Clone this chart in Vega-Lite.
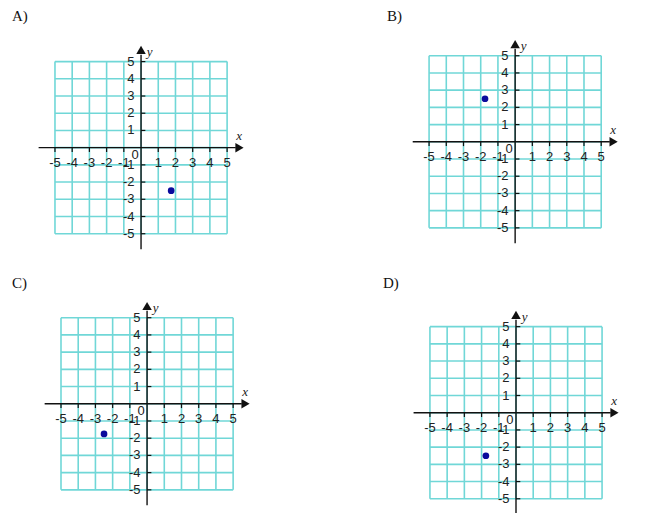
{
  "$schema": "https://vega.github.io/schema/vega-lite/v6.json",
  "padding": {"left": 12, "top": 9, "right": 0, "bottom": 0},
  "background": "white",
  "config": {
    "view": {"stroke": null},
    "axis": {"disable": true},
    "title": {"anchor": "start", "frame": "group", "dx": -28, "offset": 14, "font": "Liberation Serif", "fontSize": 15, "fontWeight": "normal", "color": "#111"}
  },
  "datasets": {
    "grid": [{"v": -5}, {"v": -4}, {"v": -3}, {"v": -2}, {"v": -1}, {"v": 0}, {"v": 1}, {"v": 2}, {"v": 3}, {"v": 4}, {"v": 5}],
    "axes": [
      {"x1": -5.95, "x2": 5.5, "y1": 0, "y2": 0},
      {"x1": 0, "x2": 0, "y1": -5.9, "y2": 5.4}
    ],
    "arrows": [
      {"x": 5.72, "y": 0, "dir": "right"},
      {"x": 0, "y": 5.68, "dir": "up"}
    ],
    "zero": [{"x": -0.35, "y": -0.4, "t": "0"}],
    "names": [
      {"x": 5.7, "y": 0.7, "t": "x"},
      {"x": 0.5, "y": 5.55, "t": "y"}
    ],
    "points": [
      {"panel": "A", "x": 1.75, "y": -2.5},
      {"panel": "B", "x": -1.75, "y": 2.5},
      {"panel": "C", "x": -2.5, "y": -1.75},
      {"panel": "D", "x": -1.75, "y": -2.5}
    ]
  },
  "columns": 2,
  "bounds": "flush",
  "spacing": {"column": 161, "row": 53},
  "concat": [
    {
      "title": {"text": "A)"},
      "width": 210, "height": 210,
      "layer": [
        {"data": {"name": "grid"}, "mark": {"type": "rule", "color": "#70d7d7", "strokeWidth": 1.6},
         "encoding": {"x": {"field": "v", "type": "quantitative", "scale": {"domain": [-5.87, 6.33], "nice": false, "zero": false}}, "y": {"datum": -5, "scale": {"domain": [-5.83, 6.37], "nice": false, "zero": false}}, "y2": {"datum": 5}}},
        {"data": {"name": "grid"}, "mark": {"type": "rule", "color": "#70d7d7", "strokeWidth": 1.6},
         "encoding": {"y": {"field": "v", "type": "quantitative"}, "x": {"datum": -5}, "x2": {"datum": 5}}},
        {"data": {"name": "axes"}, "mark": {"type": "rule", "color": "#111", "strokeWidth": 1.4},
         "encoding": {"x": {"field": "x1", "type": "quantitative"}, "x2": {"field": "x2"}, "y": {"field": "y1", "type": "quantitative"}, "y2": {"field": "y2"}}},
        {"data": {"name": "grid"}, "transform": [{"filter": "datum.v != 0"}], "mark": {"type": "rule", "color": "#111", "strokeWidth": 1.2},
         "encoding": {"x": {"field": "v", "type": "quantitative"}, "y": {"datum": 0}, "y2": {"datum": -0.25}}},
        {"data": {"name": "grid"}, "transform": [{"filter": "datum.v != 0"}], "mark": {"type": "rule", "color": "#111", "strokeWidth": 1.2},
         "encoding": {"y": {"field": "v", "type": "quantitative"}, "x": {"datum": 0}, "x2": {"datum": 0.25}}},
        {"data": {"name": "arrows"}, "mark": {"type": "point", "filled": true, "color": "#111", "size": 90, "opacity": 1},
         "encoding": {"x": {"field": "x", "type": "quantitative"}, "y": {"field": "y", "type": "quantitative"}, "shape": {"field": "dir", "type": "nominal", "scale": {"domain": ["right", "up"], "range": ["triangle-right", "triangle-up"]}, "legend": null}}},
        {"data": {"name": "grid"}, "transform": [{"filter": "datum.v != 0"}], "mark": {"type": "text", "font": "Liberation Sans", "fontSize": 13, "color": "#222", "align": "center", "baseline": "middle"},
         "encoding": {"x": {"field": "v", "type": "quantitative"}, "y": {"datum": -0.9}, "text": {"field": "v", "type": "nominal"}}},
        {"data": {"name": "grid"}, "transform": [{"filter": "datum.v != 0"}], "mark": {"type": "text", "font": "Liberation Sans", "fontSize": 13, "color": "#222", "align": "right", "baseline": "middle"},
         "encoding": {"y": {"field": "v", "type": "quantitative"}, "x": {"datum": -0.38}, "text": {"field": "v", "type": "nominal"}}},
        {"data": {"name": "zero"}, "mark": {"type": "text", "font": "Liberation Sans", "fontSize": 13, "color": "#222", "align": "center", "baseline": "middle"},
         "encoding": {"x": {"field": "x", "type": "quantitative"}, "y": {"field": "y", "type": "quantitative"}, "text": {"field": "t"}}},
        {"data": {"name": "names"}, "mark": {"type": "text", "font": "Liberation Serif", "fontStyle": "italic", "fontSize": 13, "color": "#222", "align": "center", "baseline": "middle"},
         "encoding": {"x": {"field": "x", "type": "quantitative"}, "y": {"field": "y", "type": "quantitative"}, "text": {"field": "t"}}},
        {"data": {"name": "points"}, "transform": [{"filter": "datum.panel == 'A'"}], "mark": {"type": "circle", "color": "#0a0a9c", "size": 45, "opacity": 1},
         "encoding": {"x": {"field": "x", "type": "quantitative"}, "y": {"field": "y", "type": "quantitative"}}}
      ]
    },
    {
      "title": {"text": "B)", "dx": -24},
      "width": 210, "height": 210,
      "layer": [
        {"data": {"name": "grid"}, "mark": {"type": "rule", "color": "#70d7d7", "strokeWidth": 1.6},
         "encoding": {"x": {"field": "v", "type": "quantitative", "scale": {"domain": [-6.05, 6.15], "nice": false, "zero": false}}, "y": {"datum": -5, "scale": {"domain": [-6.17, 6.03], "nice": false, "zero": false}}, "y2": {"datum": 5}}},
        {"data": {"name": "grid"}, "mark": {"type": "rule", "color": "#70d7d7", "strokeWidth": 1.6},
         "encoding": {"y": {"field": "v", "type": "quantitative"}, "x": {"datum": -5}, "x2": {"datum": 5}}},
        {"data": {"name": "axes"}, "mark": {"type": "rule", "color": "#111", "strokeWidth": 1.4},
         "encoding": {"x": {"field": "x1", "type": "quantitative"}, "x2": {"field": "x2"}, "y": {"field": "y1", "type": "quantitative"}, "y2": {"field": "y2"}}},
        {"data": {"name": "grid"}, "transform": [{"filter": "datum.v != 0"}], "mark": {"type": "rule", "color": "#111", "strokeWidth": 1.2},
         "encoding": {"x": {"field": "v", "type": "quantitative"}, "y": {"datum": 0}, "y2": {"datum": -0.25}}},
        {"data": {"name": "grid"}, "transform": [{"filter": "datum.v != 0"}], "mark": {"type": "rule", "color": "#111", "strokeWidth": 1.2},
         "encoding": {"y": {"field": "v", "type": "quantitative"}, "x": {"datum": 0}, "x2": {"datum": 0.25}}},
        {"data": {"name": "arrows"}, "mark": {"type": "point", "filled": true, "color": "#111", "size": 90, "opacity": 1},
         "encoding": {"x": {"field": "x", "type": "quantitative"}, "y": {"field": "y", "type": "quantitative"}, "shape": {"field": "dir", "type": "nominal", "scale": {"domain": ["right", "up"], "range": ["triangle-right", "triangle-up"]}, "legend": null}}},
        {"data": {"name": "grid"}, "transform": [{"filter": "datum.v != 0"}], "mark": {"type": "text", "font": "Liberation Sans", "fontSize": 13, "color": "#222", "align": "center", "baseline": "middle"},
         "encoding": {"x": {"field": "v", "type": "quantitative"}, "y": {"datum": -0.9}, "text": {"field": "v", "type": "nominal"}}},
        {"data": {"name": "grid"}, "transform": [{"filter": "datum.v != 0"}], "mark": {"type": "text", "font": "Liberation Sans", "fontSize": 13, "color": "#222", "align": "right", "baseline": "middle"},
         "encoding": {"y": {"field": "v", "type": "quantitative"}, "x": {"datum": -0.38}, "text": {"field": "v", "type": "nominal"}}},
        {"data": {"name": "zero"}, "mark": {"type": "text", "font": "Liberation Sans", "fontSize": 13, "color": "#222", "align": "center", "baseline": "middle"},
         "encoding": {"x": {"field": "x", "type": "quantitative"}, "y": {"field": "y", "type": "quantitative"}, "text": {"field": "t"}}},
        {"data": {"name": "names"}, "mark": {"type": "text", "font": "Liberation Serif", "fontStyle": "italic", "fontSize": 13, "color": "#222", "align": "center", "baseline": "middle"},
         "encoding": {"x": {"field": "x", "type": "quantitative"}, "y": {"field": "y", "type": "quantitative"}, "text": {"field": "t"}}},
        {"data": {"name": "points"}, "transform": [{"filter": "datum.panel == 'B'"}], "mark": {"type": "circle", "color": "#0a0a9c", "size": 45, "opacity": 1},
         "encoding": {"x": {"field": "x", "type": "quantitative"}, "y": {"field": "y", "type": "quantitative"}}}
      ]
    },
    {
      "title": {"text": "C)", "dy": 4},
      "width": 210, "height": 210,
      "layer": [
        {"data": {"name": "grid"}, "mark": {"type": "rule", "color": "#70d7d7", "strokeWidth": 1.6},
         "encoding": {"x": {"field": "v", "type": "quantitative", "scale": {"domain": [-6.22, 5.98], "nice": false, "zero": false}}, "y": {"datum": -5, "scale": {"domain": [-6.23, 5.97], "nice": false, "zero": false}}, "y2": {"datum": 5}}},
        {"data": {"name": "grid"}, "mark": {"type": "rule", "color": "#70d7d7", "strokeWidth": 1.6},
         "encoding": {"y": {"field": "v", "type": "quantitative"}, "x": {"datum": -5}, "x2": {"datum": 5}}},
        {"data": {"name": "axes"}, "mark": {"type": "rule", "color": "#111", "strokeWidth": 1.4},
         "encoding": {"x": {"field": "x1", "type": "quantitative"}, "x2": {"field": "x2"}, "y": {"field": "y1", "type": "quantitative"}, "y2": {"field": "y2"}}},
        {"data": {"name": "grid"}, "transform": [{"filter": "datum.v != 0"}], "mark": {"type": "rule", "color": "#111", "strokeWidth": 1.2},
         "encoding": {"x": {"field": "v", "type": "quantitative"}, "y": {"datum": 0}, "y2": {"datum": -0.25}}},
        {"data": {"name": "grid"}, "transform": [{"filter": "datum.v != 0"}], "mark": {"type": "rule", "color": "#111", "strokeWidth": 1.2},
         "encoding": {"y": {"field": "v", "type": "quantitative"}, "x": {"datum": 0}, "x2": {"datum": 0.25}}},
        {"data": {"name": "arrows"}, "mark": {"type": "point", "filled": true, "color": "#111", "size": 90, "opacity": 1},
         "encoding": {"x": {"field": "x", "type": "quantitative"}, "y": {"field": "y", "type": "quantitative"}, "shape": {"field": "dir", "type": "nominal", "scale": {"domain": ["right", "up"], "range": ["triangle-right", "triangle-up"]}, "legend": null}}},
        {"data": {"name": "grid"}, "transform": [{"filter": "datum.v != 0"}], "mark": {"type": "text", "font": "Liberation Sans", "fontSize": 13, "color": "#222", "align": "center", "baseline": "middle"},
         "encoding": {"x": {"field": "v", "type": "quantitative"}, "y": {"datum": -0.9}, "text": {"field": "v", "type": "nominal"}}},
        {"data": {"name": "grid"}, "transform": [{"filter": "datum.v != 0"}], "mark": {"type": "text", "font": "Liberation Sans", "fontSize": 13, "color": "#222", "align": "right", "baseline": "middle"},
         "encoding": {"y": {"field": "v", "type": "quantitative"}, "x": {"datum": -0.38}, "text": {"field": "v", "type": "nominal"}}},
        {"data": {"name": "zero"}, "mark": {"type": "text", "font": "Liberation Sans", "fontSize": 13, "color": "#222", "align": "center", "baseline": "middle"},
         "encoding": {"x": {"field": "x", "type": "quantitative"}, "y": {"field": "y", "type": "quantitative"}, "text": {"field": "t"}}},
        {"data": {"name": "names"}, "mark": {"type": "text", "font": "Liberation Serif", "fontStyle": "italic", "fontSize": 13, "color": "#222", "align": "center", "baseline": "middle"},
         "encoding": {"x": {"field": "x", "type": "quantitative"}, "y": {"field": "y", "type": "quantitative"}, "text": {"field": "t"}}},
        {"data": {"name": "points"}, "transform": [{"filter": "datum.panel == 'C'"}], "mark": {"type": "circle", "color": "#0a0a9c", "size": 45, "opacity": 1},
         "encoding": {"x": {"field": "x", "type": "quantitative"}, "y": {"field": "y", "type": "quantitative"}}}
      ]
    },
    {
      "title": {"text": "D)", "dy": 4},
      "width": 210, "height": 210,
      "layer": [
        {"data": {"name": "grid"}, "mark": {"type": "rule", "color": "#70d7d7", "strokeWidth": 1.6},
         "encoding": {"x": {"field": "v", "type": "quantitative", "scale": {"domain": [-6.1, 6.1], "nice": false, "zero": false}}, "y": {"datum": -5, "scale": {"domain": [-5.71, 6.49], "nice": false, "zero": false}}, "y2": {"datum": 5}}},
        {"data": {"name": "grid"}, "mark": {"type": "rule", "color": "#70d7d7", "strokeWidth": 1.6},
         "encoding": {"y": {"field": "v", "type": "quantitative"}, "x": {"datum": -5}, "x2": {"datum": 5}}},
        {"data": {"name": "axes"}, "mark": {"type": "rule", "color": "#111", "strokeWidth": 1.4},
         "encoding": {"x": {"field": "x1", "type": "quantitative"}, "x2": {"field": "x2"}, "y": {"field": "y1", "type": "quantitative"}, "y2": {"field": "y2"}}},
        {"data": {"name": "grid"}, "transform": [{"filter": "datum.v != 0"}], "mark": {"type": "rule", "color": "#111", "strokeWidth": 1.2},
         "encoding": {"x": {"field": "v", "type": "quantitative"}, "y": {"datum": 0}, "y2": {"datum": -0.25}}},
        {"data": {"name": "grid"}, "transform": [{"filter": "datum.v != 0"}], "mark": {"type": "rule", "color": "#111", "strokeWidth": 1.2},
         "encoding": {"y": {"field": "v", "type": "quantitative"}, "x": {"datum": 0}, "x2": {"datum": 0.25}}},
        {"data": {"name": "arrows"}, "mark": {"type": "point", "filled": true, "color": "#111", "size": 90, "opacity": 1},
         "encoding": {"x": {"field": "x", "type": "quantitative"}, "y": {"field": "y", "type": "quantitative"}, "shape": {"field": "dir", "type": "nominal", "scale": {"domain": ["right", "up"], "range": ["triangle-right", "triangle-up"]}, "legend": null}}},
        {"data": {"name": "grid"}, "transform": [{"filter": "datum.v != 0"}], "mark": {"type": "text", "font": "Liberation Sans", "fontSize": 13, "color": "#222", "align": "center", "baseline": "middle"},
         "encoding": {"x": {"field": "v", "type": "quantitative"}, "y": {"datum": -0.9}, "text": {"field": "v", "type": "nominal"}}},
        {"data": {"name": "grid"}, "transform": [{"filter": "datum.v != 0"}], "mark": {"type": "text", "font": "Liberation Sans", "fontSize": 13, "color": "#222", "align": "right", "baseline": "middle"},
         "encoding": {"y": {"field": "v", "type": "quantitative"}, "x": {"datum": -0.38}, "text": {"field": "v", "type": "nominal"}}},
        {"data": {"name": "zero"}, "mark": {"type": "text", "font": "Liberation Sans", "fontSize": 13, "color": "#222", "align": "center", "baseline": "middle"},
         "encoding": {"x": {"field": "x", "type": "quantitative"}, "y": {"field": "y", "type": "quantitative"}, "text": {"field": "t"}}},
        {"data": {"name": "names"}, "mark": {"type": "text", "font": "Liberation Serif", "fontStyle": "italic", "fontSize": 13, "color": "#222", "align": "center", "baseline": "middle"},
         "encoding": {"x": {"field": "x", "type": "quantitative"}, "y": {"field": "y", "type": "quantitative"}, "text": {"field": "t"}}},
        {"data": {"name": "points"}, "transform": [{"filter": "datum.panel == 'D'"}], "mark": {"type": "circle", "color": "#0a0a9c", "size": 45, "opacity": 1},
         "encoding": {"x": {"field": "x", "type": "quantitative"}, "y": {"field": "y", "type": "quantitative"}}}
      ]
    }
  ]
}
